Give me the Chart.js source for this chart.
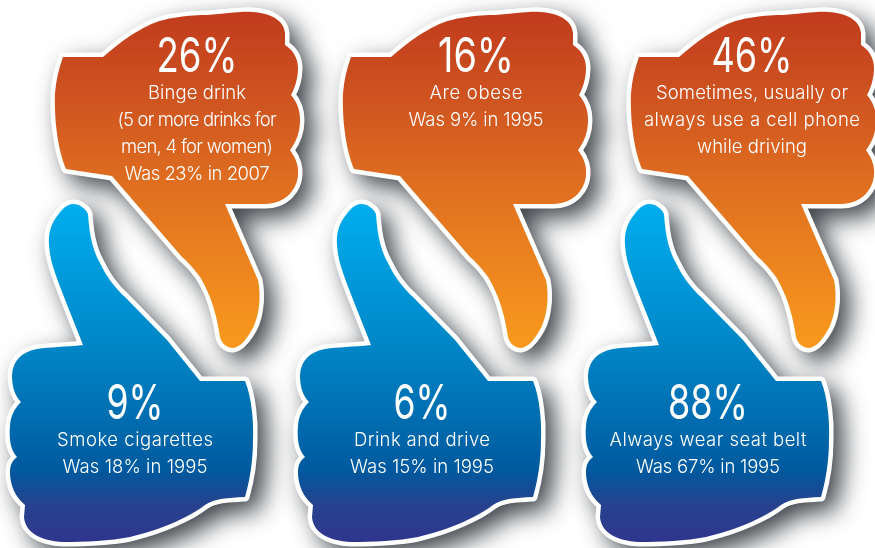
<!DOCTYPE html>
<html>
<head>
<meta charset="utf-8">
<title>Health habits</title>
<script src="https://cdn.jsdelivr.net/npm/chart.js@4"></script>
<style>
  html, body { margin: 0; padding: 0; background: #fff; }
  canvas { display: block; }
</style>
</head>
<body>
<canvas id="thumbs" width="875" height="548"></canvas>
<script>
// top row, thumbs down
const downValues = [26, 16, 46];
const downLabels = [
  ['Binge drink', '(5 or more drinks for', 'men, 4 for women)', 'Was 23% in 2007'],
  ['Are obese', 'Was 9% in 1995'],
  ['Sometimes, usually or', 'always use a cell phone', 'while driving']
];

// bottom row, thumbs up
const upValues = [9, 6, 88];
const upLabels = [
  ['Smoke cigarettes', 'Was 18% in 1995'],
  ['Drink and drive', 'Was 15% in 1995'],
  ['Always wear seat belt', 'Was 67% in 1995']
];

const columns = [0, 1, 2];
const ROW_DOWN = 0;
const ROW_UP = 1;

// grid spacing in pixels, scale limits below come from these
const COL_GAP = 288;
const ROW_GAP = 190;
const FIRST_COL_X = 160;
const FIRST_ROW_Y = 185;

// how far the text block sits from the centre of each thumb
const downTextShift = [37, 28, 16];
const upTextShift = [-25, -26, -28];

// set widths of the text lines, in pixels
const downValueWidths = [81, 76, 81];
const upValueWidths = [57, 57, 80];
const downLineWidths = [[98, 159, 152, 145], [93, 135], [192, 216, 110]];
const upLineWidths = [[156, 145], [136, 144], [197, 144]];

const downPath = new Path2D(`M63 57 L103 57 C115 47 125 38 140 30 C150 24 160 20 173 18 C190 15 200 15 207 15
  C225 14 240 11 253 12 C270 13 284 20 285 33 L285 45 C293 50 298 58 298 68 C298 78 295 88 291 95
  C297 102 300 110 300 120 C300 133 296 142 290 150 C295 157 299 165 298 175 C297 190 285 204 265 204
  L225 204 L258 280 C262 300 258 322 250 333 C245 341 240 347 233 348 C226 348 221 342 220 337
  C218 325 217 320 215 313 C212 300 205 285 200 277 C195 270 188 262 182 257 L112 176 L66 169
  C58 150 54 120 55 93 C56 80 59 68 63 57 Z`);

const upPath = new Path2D(`M73 204 C80 204 86 209 88 214 C89 225 90 245 100 263 C107 278 117 290 125 297
  L167 340 L200 381 L245 381 C251 395 254 420 253 440 C253 460 250 480 245 497 C228 498 215 498 205 505
  C190 517 160 530 130 537 C110 541 85 542 63 542 C40 541 25 532 24 517 L25 505 C15 497 10 485 10 472
  C10 465 12 461 17 457 C10 450 9 437 10 425 C11 415 15 408 21 402 C14 395 12 385 12 375
  C13 360 22 352 37 349 C50 347 65 347 83 345 L64 297 C60 285 50 265 49 245 C48 232 52 222 58 215
  C62 209 67 204 73 204 Z`);

// draws one thumb into its own canvas, used as the point image
function makeThumb(path, centerY, stops) {
  const w = 360, h = 400;
  const originX = FIRST_COL_X - w / 2;
  const originY = centerY - h / 2;

  const sil = document.createElement('canvas');
  sil.width = w;
  sil.height = h;
  const s = sil.getContext('2d');
  s.translate(-originX, -originY);
  s.fillStyle = '#fff';
  s.strokeStyle = '#fff';
  s.lineWidth = 9;
  s.lineJoin = 'round';
  s.fill(path);
  s.stroke(path);

  const out = document.createElement('canvas');
  out.width = w;
  out.height = h;
  const c = out.getContext('2d');
  c.shadowColor = 'rgba(55,60,65,0.95)';
  c.shadowBlur = 24;
  c.shadowOffsetX = 10;
  c.shadowOffsetY = 10;
  c.drawImage(sil, 0, 0);
  c.shadowColor = 'transparent';

  c.translate(-originX, -originY);
  const top = stops[0][0], bottom = stops[stops.length - 1][0];
  const grad = c.createLinearGradient(0, top, 0, bottom);
  stops.forEach(st => grad.addColorStop((st[0] - top) / (bottom - top), st[1]));
  c.fillStyle = grad;
  c.fill(path);
  return out;
}

const downThumb = makeThumb(downPath, FIRST_ROW_Y, [
  [15, '#c23c1d'], [100, '#cf5420'], [190, '#e07020'], [345, '#f8991d']
]);
const upThumb = makeThumb(upPath, FIRST_ROW_Y + ROW_GAP, [
  [204, '#00aeef'], [350, '#0085c6'], [430, '#0069ac'], [470, '#00599e'], [505, '#27428f'], [542, '#2f358d']
]);

// spreads the letters of a line so that it fills the given width
function fitLine(ctx, text, x, y, width) {
  ctx.letterSpacing = '0px';
  const gap = (width - ctx.measureText(text).width) / (text.length - 1);
  ctx.letterSpacing = gap.toFixed(2) + 'px';
  ctx.fillText(text, x + gap / 2, y);
}

function drawLabels(ctx, points, values, labels, shifts, valueWidths, lineWidths, valueDy, firstDy) {
  points.forEach((pt, i) => {
    const x = pt.x + shifts[i];
    const big = values[i] + '%';

    // the big number is squeezed rather than tracked so the digits don't touch
    ctx.font = '400 48px Inter';
    ctx.letterSpacing = '0px';
    const squeeze = valueWidths[i] / ctx.measureText(big).width;
    ctx.save();
    ctx.translate(x, pt.y + valueDy);
    ctx.scale(squeeze, 1);
    ctx.fillText(big, 0, 0);
    ctx.restore();

    ctx.font = '300 18.5px Inter';
    labels[i].forEach((line, j) => fitLine(ctx, line, x, pt.y + firstDy + j * 27, lineWidths[i][j]));
  });
}

const thumbText = {
  id: 'thumbText',
  afterDatasetsDraw(chart) {
    const ctx = chart.ctx;
    ctx.save();
    ctx.fillStyle = '#fff';
    ctx.textAlign = 'center';
    ctx.textBaseline = 'alphabetic';
    drawLabels(ctx, chart.getDatasetMeta(0).data, upValues, upLabels, upTextShift, upValueWidths, upLineWidths, 44, 71);
    drawLabels(ctx, chart.getDatasetMeta(1).data, downValues, downLabels, downTextShift, downValueWidths, downLineWidths, -113, -86);
    ctx.restore();
  }
};

new Chart(document.getElementById('thumbs').getContext('2d'), {
  type: 'scatter',
  data: {
    datasets: [
      {
        label: 'Thumbs up',
        data: columns.map(col => ({ x: col, y: ROW_UP })),
        pointStyle: upThumb,
        pointRadius: 1
      },
      {
        label: 'Thumbs down',
        data: columns.map(col => ({ x: col, y: ROW_DOWN })),
        pointStyle: downThumb,
        pointRadius: 1
      }
    ]
  },
  options: {
    responsive: false,
    animation: false,
    layout: { padding: 0, autoPadding: false },
    plugins: { legend: { display: false }, tooltip: { enabled: false } },
    scales: {
      x: {
        display: false,
        min: -FIRST_COL_X / COL_GAP,
        max: (875 - FIRST_COL_X) / COL_GAP
      },
      y: {
        display: false,
        reverse: true,
        min: -FIRST_ROW_Y / ROW_GAP,
        max: (548 - FIRST_ROW_Y) / ROW_GAP
      }
    }
  },
  plugins: [thumbText]
});
</script>
</body>
</html>
